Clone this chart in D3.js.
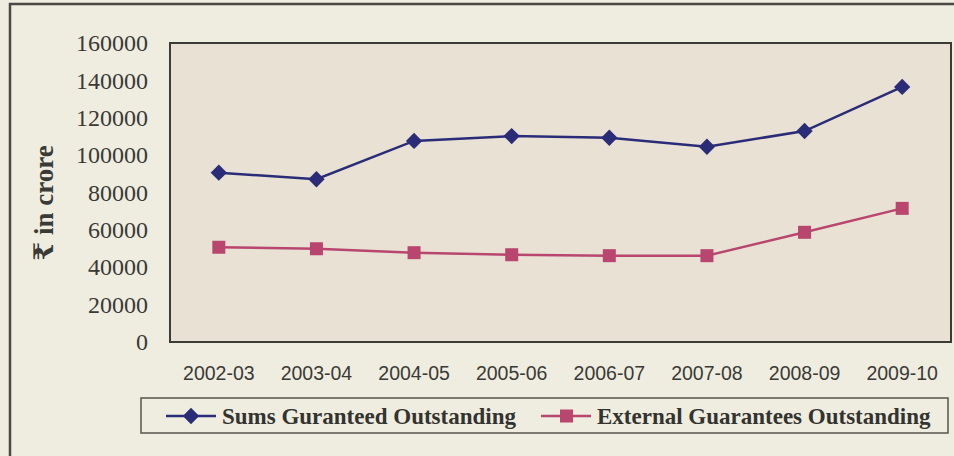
<!DOCTYPE html>
<html>
<head>
<meta charset="utf-8">
<script src="https://cdn.jsdelivr.net/npm/d3@7"></script>
<style>
  html, body { margin: 0; padding: 0; background: #efede0; }
  svg { display: block; }
</style>
</head>
<body>
<div id="chart"></div>
<script>
const years = ['2002-03', '2003-04', '2004-05', '2005-06', '2006-07', '2007-08', '2008-09', '2009-10'];
const sumsGuaranteed = [90600, 87100, 107600, 110200, 109300, 104500, 112900, 136500];
const externalGuarantees = [50700, 49900, 47800, 46700, 46200, 46200, 58700, 71500];
const yTicks = [0, 20000, 40000, 60000, 80000, 100000, 120000, 140000, 160000];
const seriesNames = ['Sums Guranteed Outstanding', 'External Guarantees Outstanding'];

const width = 954, height = 456;
const margin = { top: 43, right: 3, bottom: 114, left: 170 };

const svg = d3.select('#chart')
  .append('svg')
  .attr('width', width)
  .attr('height', height);

// outer frame of the figure (runs off the right and bottom edges)
svg.append('rect')
  .attr('x', 10).attr('y', 4)
  .attr('width', 960).attr('height', 470)
  .attr('fill', '#efede0')
  .attr('stroke', '#4a4a44')
  .attr('stroke-width', 2.5);

const x = d3.scaleBand()
  .domain(years)
  .range([margin.left, width - margin.right]);

const y = d3.scaleLinear()
  .domain([0, 160000])
  .range([height - margin.bottom, margin.top]);

// plot area
svg.append('rect')
  .attr('x', margin.left)
  .attr('y', margin.top)
  .attr('width', width - margin.left - margin.right)
  .attr('height', height - margin.top - margin.bottom)
  .attr('fill', '#e9e2d4')
  .attr('stroke', '#3c3c36')
  .attr('stroke-width', 2);

// y axis labels
svg.append('g')
  .attr('transform', `translate(${margin.left - 22},0)`)
  .call(d3.axisLeft(y).tickValues(yTicks).tickSize(0).tickPadding(0).tickFormat(d3.format('d')))
  .call(g => g.select('.domain').remove())
  .selectAll('text')
  .attr('font-family', '"Liberation Serif", "Times New Roman", serif')
  .attr('font-size', 24)
  .attr('fill', '#3a3a36');

// x axis labels
svg.append('g')
  .attr('transform', `translate(0,${height - margin.bottom})`)
  .call(d3.axisBottom(x).tickSize(0).tickPadding(24))
  .call(g => g.select('.domain').remove())
  .selectAll('text')
  .attr('font-family', '"Liberation Sans", Arial, sans-serif')
  .attr('font-size', 19.5)
  .attr('fill', '#3a3a36');

// y axis title
svg.append('text')
  .attr('transform', `translate(53,${203}) rotate(-90)`)
  .attr('text-anchor', 'middle')
  .attr('font-family', '"Liberation Serif", "DejaVu Serif", serif')
  .attr('font-weight', 'bold')
  .attr('font-size', 27)
  .attr('fill', '#3a3a36')
  .text('₹ in crore');

const cx = d => x(d) + x.bandwidth() / 2;

const line = d3.line()
  .x((d, i) => cx(years[i]))
  .y(d => y(d));

const blue = '#2a2c78';
const pink = '#b8466f';

svg.append('path')
  .datum(sumsGuaranteed)
  .attr('d', line)
  .attr('fill', 'none')
  .attr('stroke', blue)
  .attr('stroke-width', 2.5);

svg.append('path')
  .datum(externalGuarantees)
  .attr('d', line)
  .attr('fill', 'none')
  .attr('stroke', pink)
  .attr('stroke-width', 2.5);

const diamond = d3.symbol().type(d3.symbolDiamond2).size(170);

svg.append('g')
  .selectAll('path')
  .data(sumsGuaranteed)
  .join('path')
  .attr('d', diamond)
  .attr('transform', (d, i) => `translate(${cx(years[i])},${y(d)})`)
  .attr('fill', blue);

svg.append('g')
  .selectAll('rect')
  .data(externalGuarantees)
  .join('rect')
  .attr('x', (d, i) => cx(years[i]) - 6.5)
  .attr('y', d => y(d) - 6.5)
  .attr('width', 13)
  .attr('height', 13)
  .attr('fill', pink);

// legend
const legend = svg.append('g');
legend.append('rect')
  .attr('x', 141).attr('y', 398)
  .attr('width', 807).attr('height', 35)
  .attr('fill', 'none')
  .attr('stroke', '#55554e')
  .attr('stroke-width', 1.5);

const legendItems = [
  { name: seriesNames[0], color: blue, x: 166, marker: 'diamond' },
  { name: seriesNames[1], color: pink, x: 541, marker: 'square' }
];

legendItems.forEach(item => {
  const g = legend.append('g').attr('transform', `translate(${item.x},416)`);
  g.append('line')
    .attr('x1', 0).attr('x2', 50)
    .attr('stroke', item.color)
    .attr('stroke-width', 2.5);
  if (item.marker === 'diamond') {
    g.append('path')
      .attr('d', diamond)
      .attr('transform', 'translate(25,0)')
      .attr('fill', item.color);
  } else {
    g.append('rect')
      .attr('x', 19).attr('y', -6.5)
      .attr('width', 13).attr('height', 13)
      .attr('fill', item.color);
  }
  g.append('text')
    .attr('x', 56)
    .attr('dy', '0.35em')
    .attr('font-family', '"Liberation Serif", "Times New Roman", serif')
    .attr('font-weight', 'bold')
    .attr('font-size', 23)
    .attr('fill', '#33332f')
    .text(item.name);
});
</script>
</body>
</html>
